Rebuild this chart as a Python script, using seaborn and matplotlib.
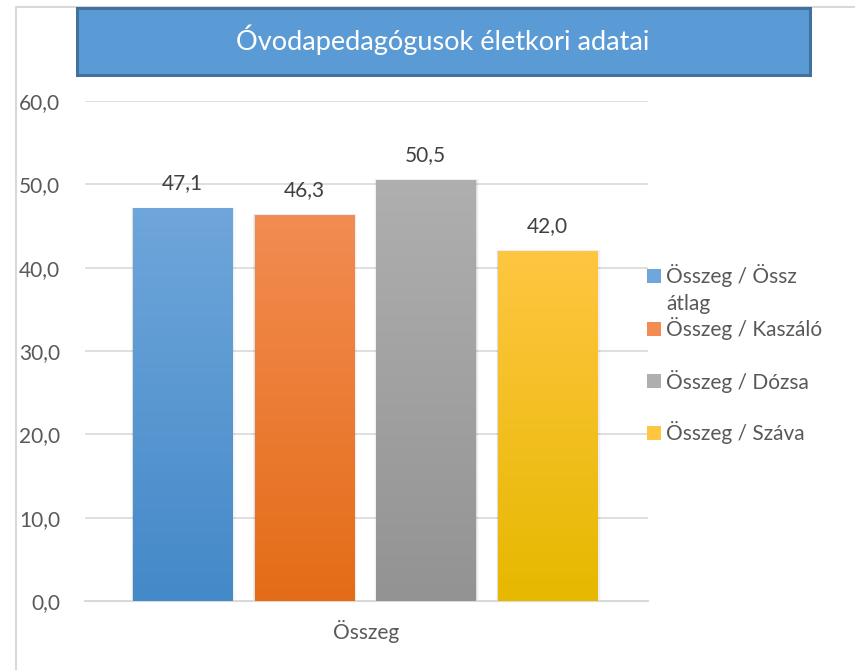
import numpy as np
import pandas as pd
import matplotlib
matplotlib.use("Agg")
import matplotlib.pyplot as plt
import matplotlib.patches as mpatches
from matplotlib.colors import LinearSegmentedColormap
import seaborn as sns

# ---- data ----
title = "Óvodapedagógusok életkori adatai"
category = "Összeg"
series = ["Összeg / Össz átlag", "Összeg / Kaszáló", "Összeg / Dózsa", "Összeg / Száva"]
legend_labels = ["Összeg / Össz\nátlag", "Összeg / Kaszáló", "Összeg / Dózsa", "Összeg / Száva"]
values = [47.1, 46.3, 50.5, 42.0]
value_labels = ["47,1", "46,3", "50,5", "42,0"]
yticks = [0, 10, 20, 30, 40, 50, 60]
ytick_labels = ["0,0", "10,0", "20,0", "30,0", "40,0", "50,0", "60,0"]
top_colors = ["#6FA6DB", "#F28C52", "#AFAFAF", "#FFC641"]
bottom_colors = ["#4489C8", "#E46C17", "#939393", "#E6B800"]

sns.set_theme(style="white")
plt.rcParams["font.family"] = ["Lato", "DejaVu Sans"]

W, H = 855, 670
fig = plt.figure(figsize=(W / 100, H / 100), dpi=100)
fig.patch.set_facecolor("white")

def fx(px):
    return px / W

def fy(py):
    return 1 - py / H

FS = 15

# chart border
fig.add_artist(mpatches.Rectangle((fx(16), fy(672)), fx(900) - fx(16), fy(7) - fy(672),
                                  transform=fig.transFigure, fill=False,
                                  edgecolor="#D9D9D9", linewidth=1.5, zorder=0))

ax = fig.add_axes([fx(85), fy(601), fx(648) - fx(85), fy(101) - fy(601)])

df = pd.DataFrame({"series": series, "value": values})
sns.barplot(data=df, x="series", y="value", hue="series", palette=top_colors,
            width=0.814, legend=False, ax=ax, saturation=1)

ax.set_ylim(0, 60)
ax.set_xlim(-0.80, 3.825)
ax.set_yticks(yticks)
ax.set_yticklabels(ytick_labels, fontsize=FS, color="#595959")
ax.set_xticks([])
ax.set_xlabel(category, fontsize=FS, color="#595959", labelpad=14)
ax.set_ylabel("")
ax.grid(axis="y", color="#D9D9D9", linewidth=1.2)
ax.set_axisbelow(True)
for s in ["top", "right", "left"]:
    ax.spines[s].set_visible(False)
ax.spines["bottom"].set_color("#D9D9D9")
ax.spines["bottom"].set_linewidth(1.5)
ax.tick_params(axis="y", length=0, pad=18)

# gradients & shadows & labels
for i, p in enumerate(ax.patches):
    x0, w, h = p.get_x(), p.get_width(), p.get_height()
    cmap = LinearSegmentedColormap.from_list("g%d" % i, [bottom_colors[i], top_colors[i]])
    grad = np.linspace(0, 1, 256).reshape(-1, 1)
    im = ax.imshow(grad, extent=[x0, x0 + w, 0, h], origin="lower", cmap=cmap,
                   aspect="auto", zorder=3)
    im.set_clip_path(p)
    p.set_edgecolor("none")
    p.set_linewidth(0)
    # soft shadow
    for k, a in enumerate([0.07, 0.04, 0.02]):
        d = 0.010 * (k + 1)
        sh = mpatches.Rectangle((x0 - d * 0.5, 0), w + d * 1.5, h + d * 5,
                                facecolor="black", alpha=a, edgecolor="none", zorder=1.5)
        ax.add_patch(sh)
    ax.text(x0 + w / 2, h + 1.8, value_labels[i], ha="center", va="bottom",
            fontsize=FS, color="#404040")
ax.set_xlim(-0.80, 3.825)
ax.set_ylim(0, 60)

# title box
fig.add_artist(mpatches.Rectangle((fx(77), fy(75)), fx(810) - fx(77), fy(8) - fy(75),
                                  transform=fig.transFigure, facecolor="#5B9BD5",
                                  edgecolor="#41719C", linewidth=2.2, zorder=2))
fig.text(fx(443), fy(40), title, ha="center", va="center", fontsize=19.5,
         color="white", fontweight="normal", zorder=3)

# legend (manual)
leg_y = [276, 329, 381, 433]
for i, lab in enumerate(legend_labels):
    yc = leg_y[i]
    fig.add_artist(mpatches.Rectangle((fx(647), fy(yc + 7)), fx(661) - fx(647), fy(yc - 7) - fy(yc + 7),
                                      transform=fig.transFigure, facecolor=top_colors[i],
                                      edgecolor="none"))
    if "\n" in lab:
        fig.text(fx(666), fy(yc - 12), lab, ha="left", va="top",
                 fontsize=FS, color="#595959", linespacing=1.45)
    else:
        fig.text(fx(666), fy(yc), lab, ha="left", va="center",
                 fontsize=FS, color="#595959")

fig.savefig("out.png", dpi=100, facecolor="white")
